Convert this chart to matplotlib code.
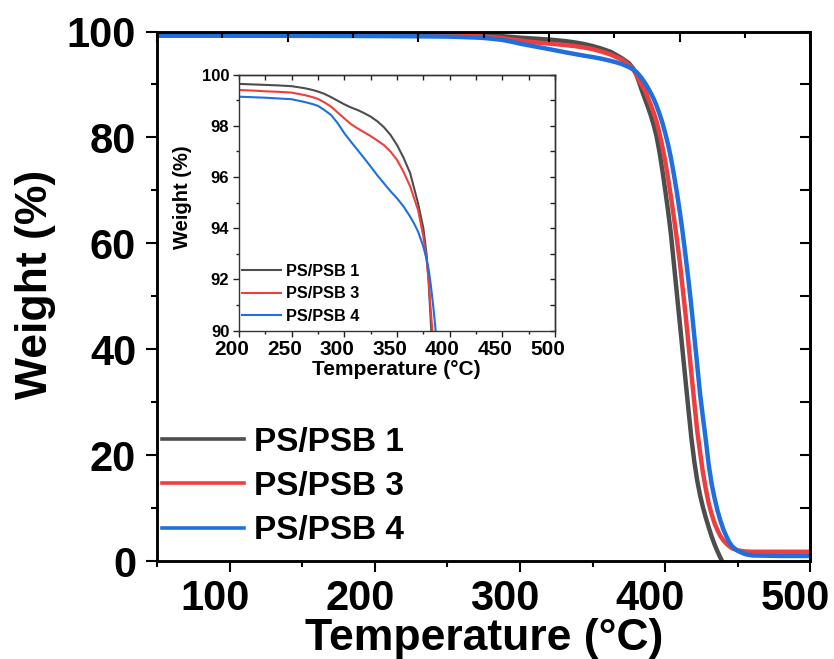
import matplotlib
matplotlib.use("Agg")
import matplotlib.pyplot as plt
import matplotlib.transforms as mtrans
from matplotlib.ticker import MultipleLocator
from matplotlib.lines import Line2D

plt.rcParams['font.family'] = ['Liberation Sans', 'DejaVu Sans']
plt.rcParams['font.weight'] = 'bold'
plt.rcParams['axes.labelweight'] = 'bold'

# temperature grid (°C) and weight (%)
temp = [50, 100, 150,
        200, 212.5, 225, 237.5, 250, 262.5, 270, 275, 281, 287.5, 293.75, 300, 306.25,
        312.5, 318.75, 325, 331.25, 337.5, 343.75, 350, 356.25, 362.5, 366, 370, 375, 378,
        380, 382, 384, 386, 388, 390, 392, 394, 396, 398, 400, 402, 404, 406, 408, 410,
        412, 414, 416, 418, 420, 422, 424, 426, 428, 430, 432, 434, 436, 438, 440, 442,
        444, 446, 448, 450,
        455, 460, 480, 500]
psb1 = [99.7, 99.7, 99.68,
        99.64, 99.62, 99.6, 99.58, 99.55, 99.47, 99.4, 99.34, 99.25, 99.12, 98.98, 98.84,
        98.72, 98.62, 98.5, 98.36, 98.18, 97.95, 97.65, 97.25, 96.75, 96.15, 95.6, 94.97,
        94.0, 93.0,
        91.9, 90.4, 88.8, 87.3, 85.8, 84.2, 82.4, 80.2, 77.3, 73.8, 70.0, 66.0, 61.5, 56.0,
        50.5, 45.0, 39.5, 34.0, 28.5, 23.2, 18.8, 15.2, 12.4, 10.1, 8.1, 6.3, 4.6, 3.1,
        1.8, 0.6, -0.5, -1.5, -2, -2, -2, -2,
        -2, -2, -2, -2]
psb3 = [99.45, 99.45, 99.43,
        99.4, 99.38, 99.35, 99.33, 99.3, 99.2, 99.12, 99.05, 98.92, 98.75, 98.52, 98.29,
        98.07, 97.9, 97.75, 97.6, 97.43, 97.25, 97.0, 96.67, 96.2, 95.63, 95.2, 94.71,
        93.67, 92.8,
        92.0, 90.8, 89.8, 88.9, 87.5, 86.2, 84.7, 83.0, 80.8, 78.3, 75.5, 72.2, 68.6, 64.8,
        60.8, 56.5, 51.5, 46.5, 41.0, 35.4, 30.0, 24.6, 20.5, 16.6, 13.5, 10.8, 8.8, 7.1,
        5.8, 4.7, 3.9, 3.3, 2.8, 2.4, 2.2, 2.0,
        1.8, 1.75, 1.75, 1.75]
psb4 = [99.2, 99.2, 99.18,
        99.14, 99.12, 99.1, 99.07, 99.04, 98.93, 98.85, 98.78, 98.62, 98.42, 98.1, 97.71,
        97.38, 97.06, 96.74, 96.41, 96.07, 95.76, 95.45, 95.17, 94.85, 94.45, 94.2, 93.87,
        93.28, 92.8,
        92.4, 91.8, 91.1, 90.3, 89.4, 88.4, 87.3, 86.0, 84.5, 82.8, 80.8, 78.6, 76.0, 72.9,
        69.6, 66.0, 62.0, 57.6, 53.0, 48.0, 42.5, 37.0, 31.5, 27.0, 22.7, 18.0, 14.5, 11.8,
        9.5, 7.6, 6.0, 4.7, 3.6, 2.8, 2.3, 1.9,
        1.3, 1.05, 0.95, 0.95]

labels = ['PS/PSB 1', 'PS/PSB 3', 'PS/PSB 4']
colors = ['#4d4d4d', '#ef3e3e', '#1f6fde']
series = [psb1, psb3, psb4]

fig = plt.figure(figsize=(8.34, 6.59), dpi=100)
ax = fig.add_axes([0.1882, 0.1487, 0.7836, 0.8035])

for s, c, l in zip(series, colors, labels):
    ax.plot(temp, s, color=c, lw=3.2, label=l)

ax.set_xlim(50, 500)
ax.set_ylim(0, 100)
ax.set_xticks([100, 200, 300, 400, 500])
ax.xaxis.set_minor_locator(MultipleLocator(50))
ax.yaxis.set_major_locator(MultipleLocator(20))
ax.yaxis.set_minor_locator(MultipleLocator(10))
ax.tick_params(which='both', direction='out', width=1.5, labelsize=30)
ax.tick_params(which='major', length=8)
ax.tick_params(which='minor', length=4)
ax.tick_params(axis='x', pad=5)
ax.tick_params(axis='y', pad=7)
shift = mtrans.ScaledTranslation(-0.15, 0, fig.dpi_scale_trans)
for lbl in ax.get_xticklabels():
    lbl.set_transform(lbl.get_transform() + shift)
for sp in ax.spines.values():
    sp.set_linewidth(1.8)
ax.set_xlabel('Temperature (°C)', fontsize=32)
ax.set_ylabel('Weight (%)', fontsize=32)
ax.xaxis.set_label_coords(0.501, -0.107)
ax.yaxis.set_label_coords(-0.155, 0.523)

# top axis (unlinked, 0-500) and right axis, ticks inward
top = ax.twiny()
top.set_xlim(0, 500)
top.xaxis.set_major_locator(MultipleLocator(100))
top.xaxis.set_minor_locator(MultipleLocator(50))
top.tick_params(which='both', direction='in', width=1.5, labeltop=False)
top.tick_params(which='major', length=7)
top.tick_params(which='minor', length=4)
for sp in top.spines.values():
    sp.set_linewidth(1.8)
right = ax.secondary_yaxis('right')
right.yaxis.set_major_locator(MultipleLocator(10))
right.tick_params(direction='in', length=7, width=1.5, labelright=False)
right.spines['right'].set_linewidth(1.8)

handles = [Line2D([], [], color=c, lw=2.6) for c in colors]
ax.legend(handles, labels, loc='lower left', bbox_to_anchor=(0.008, 0.028),
          frameon=False, fontsize=24, handlelength=2.45, handletextpad=0.3,
          labelspacing=0.4, borderpad=0, borderaxespad=0)

# inset
ins = fig.add_axes([0.2866, 0.4982, 0.3789, 0.3885])
for s, c, l in zip(series, colors, labels):
    ins.plot(temp, s, color=c, lw=1.5, label=l)
ins.set_xlim(200, 500)
ins.set_ylim(90, 100)
ins.set_xticks([200, 250, 300, 350, 400, 450, 500])
ins.xaxis.set_minor_locator(MultipleLocator(25))
ins.yaxis.set_major_locator(MultipleLocator(2))
ins.yaxis.set_minor_locator(MultipleLocator(1))
ins.tick_params(which='both', direction='out', width=1, colors='#222222')
ins.tick_params(which='major', length=4)
ins.tick_params(which='minor', length=2.5)
ins.tick_params(axis='x', labelsize=15, pad=3, labelcolor='black')
ins.tick_params(axis='y', labelsize=12, pad=3, labelcolor='black')
ishift = mtrans.ScaledTranslation(-0.075, 0, fig.dpi_scale_trans)
for lbl in ins.get_xticklabels():
    lbl.set_transform(lbl.get_transform() + ishift)
for sp in ins.spines.values():
    sp.set_linewidth(1)
    sp.set_color('#333333')
ins.set_xlabel('Temperature (°C)', fontsize=15)
ins.set_ylabel('Weight (%)', fontsize=14.5)
ins.xaxis.set_label_coords(0.499, -0.114)
ins.yaxis.set_label_coords(-0.15, 0.523)

itop = ins.secondary_xaxis('top')
itop.xaxis.set_major_locator(MultipleLocator(25))
itop.tick_params(direction='in', length=3.5, width=1, colors='#222222', labeltop=False)
itop.spines['top'].set_color('#333333')
itop.spines['top'].set_linewidth(1)
iright = ins.secondary_yaxis('right')
iright.yaxis.set_major_locator(MultipleLocator(1))
iright.tick_params(direction='in', length=3.5, width=1, colors='#222222', labelright=False)
iright.spines['right'].set_color('#333333')
iright.spines['right'].set_linewidth(1)

ins.legend(loc='lower left', bbox_to_anchor=(0.0095, 0.028), frameon=False,
           fontsize=11.7, handlelength=2.4, handletextpad=0.3, labelspacing=0.45,
           borderpad=0, borderaxespad=0)

fig.savefig('out.png', dpi=100)
